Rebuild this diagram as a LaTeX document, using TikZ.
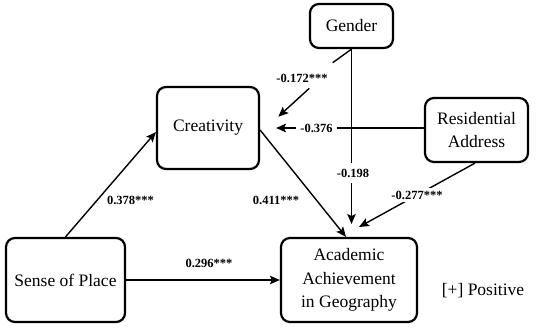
\documentclass[tikz,border=0pt]{standalone}
\usepackage{fontspec}
\setmainfont{Liberation Serif}
\usetikzlibrary{arrows.meta}
\begin{document}
\begin{tikzpicture}[x=1pt,y=-1pt,
  box/.style={draw, line width=2.2pt, rounded corners=9pt, align=center,
    font=\fontsize{17.5}{23.5}\selectfont, inner sep=2pt},
  conn/.style={line width=1.4pt},
  arr/.style={conn, -{Stealth[length=10pt,width=8.5pt,inset=2pt]}},
  lbl/.style={font=\bfseries\fontsize{12.5}{14}\selectfont, inner sep=2pt},
  lblw/.style={lbl, fill=white, inner xsep=4pt, inner ysep=5pt}]
\useasboundingbox (0,0) rectangle (536,327);

% boxes
\node[box, minimum width=83pt, minimum height=44pt] (gen) at (351.5,26) {Gender};
\node[box, minimum width=102pt, minimum height=82pt] (cre) at (208,128) {Creativity};
\node[box, minimum width=103pt, minimum height=64pt] (res) at (476.5,130) {Residential\\Address};
\node[box, minimum width=119pt, minimum height=84pt] (sop) at (65.5,280) {Sense of Place};
\node[box, minimum width=136pt, minimum height=84pt] (acad) at (349,280) {Academic\\Achievement\\in Geography};
\node[font=\fontsize{17.5}{23.5}\selectfont, anchor=base, inner sep=0pt] (pos) at (483,295) {[+] Positive};

% free ends
\coordinate (g1) at (332.7,62.7);
\coordinate (g2) at (309.3,88.3);
\coordinate (g3) at (278.3,116.7);
\coordinate (gtip) at (351.5,224);
\coordinate (rtip) at (359,227);
\coordinate (ctip) at (276,128);

% connectors
\draw[arr] (sop.north) -- ([yshift=-4pt]cre.west);
\draw[arr] (sop) -- (acad);
\draw[arr] ([yshift=-2pt]cre.east) -- ([xshift=-3pt]acad.north);
\draw[arr] (gen.south) -- (gtip);
\draw[conn] (gen.south) -- (g1);
\draw[arr] (g2) -- (g3);
\draw[arr] ([yshift=2pt]res.west) -- (ctip);
\draw[arr] ([xshift=-1.5pt]res.south) -- (rtip);

% labels
\node[lbl] (l378) at (130.5,200) {0.378***};
\node[lbl] (l411) at (276,200) {0.411***};
\node[lbl] (l296) at (209,263) {0.296***};
\node[lbl] (l172) at (302,78) {-0.172***};
\node[lblw] (l376) at (316.5,128) {-0.376};
\node[lblw, inner ysep=6pt] (l198) at (353,173) {-0.198};
\node[lblw, inner xsep=3pt, inner ysep=3pt] (l277) at (417,195) {-0.277***};
\end{tikzpicture}
\end{document}
